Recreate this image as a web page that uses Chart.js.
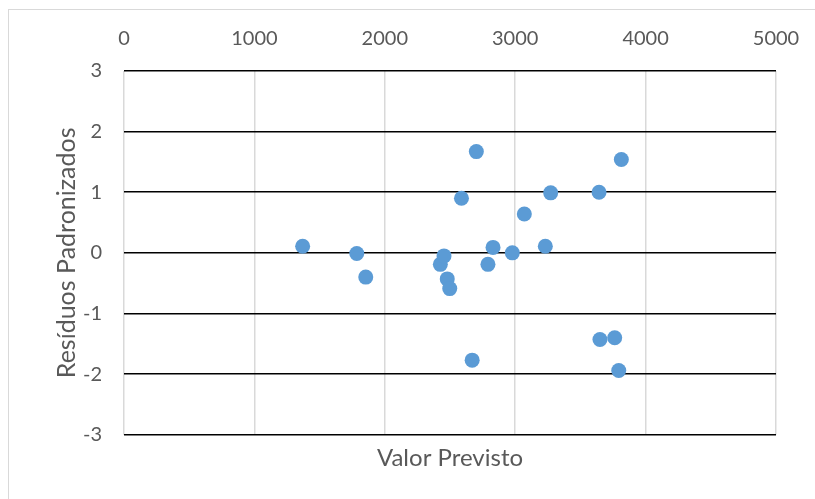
<!DOCTYPE html>
<html>
<head>
<meta charset="utf-8">
<script src="https://cdn.jsdelivr.net/npm/chart.js@4/dist/chart.umd.min.js"></script>
<style>
  html, body { margin: 0; padding: 0; background: #ffffff; }
  #wrap { position: relative; width: 815px; height: 499px; overflow: hidden; }
  #frame { position: absolute; left: 8px; top: 9px; width: 900px; height: 600px;
           border: 1.5px solid #D9D9D9; pointer-events: none; }
  canvas { position: absolute; left: 0; top: 0; }
</style>
</head>
<body>
<div id="wrap">
  <canvas id="chart" width="815" height="499"></canvas>
  <div id="frame"></div>
</div>
<script>
// Predicted value (x) and standardized residual (y) for each observation
const valorPrevisto = [1370, 1785, 1854, 2426, 2454, 2479, 2498, 2588, 2670, 2702, 2791,
                       2830, 2978, 3070, 3231, 3272, 3643, 3650, 3763, 3794, 3814];
const residuos = [0.11, -0.01, -0.40, -0.19, -0.05, -0.43, -0.59, 0.90, -1.77, 1.67, -0.19,
                  0.09, 0.00, 0.64, 0.11, 0.99, 1.00, -1.43, -1.40, -1.94, 1.54];

const xTicks = [0, 1000, 2000, 3000, 4000, 5000];
const yTicks = [-3, -2, -1, 0, 1, 2, 3];

const textColor = '#595959';
const fontFamily = 'Lato, "Open Sans", sans-serif';

const points = valorPrevisto.map((v, i) => ({ x: v, y: residuos[i] }));

new Chart(document.getElementById('chart'), {
  type: 'scatter',
  data: {
    datasets: [{
      label: 'Resíduos',
      data: points,
      backgroundColor: '#5B9BD5',
      borderColor: '#5B9BD5',
      borderWidth: 0,
      pointRadius: 7.5,
      pointHoverRadius: 7.5
    }]
  },
  options: {
    responsive: false,
    animation: false,
    events: [],
    layout: { padding: { left: 0, right: 39, top: 0, bottom: 0 } },
    plugins: {
      legend: { display: false },
      tooltip: { enabled: false },
      title: {
        display: true,
        position: 'bottom',
        fullSize: false,
        text: 'Valor Previsto',
        color: textColor,
        font: { family: fontFamily, size: 24, weight: 'normal' },
        padding: { top: 9, bottom: 26.5 }
      }
    },
    scales: {
      x: {
        type: 'linear',
        position: 'top',
        min: xTicks[0],
        max: xTicks[xTicks.length - 1],
        afterBuildTicks: (scale) => { scale.ticks = xTicks.map(v => ({ value: v })); },
        afterFit: (scale) => {
          scale.height = 71;
          scale.paddingLeft = 0;
          scale.paddingRight = 0;
        },
        ticks: {
          color: textColor,
          font: { family: fontFamily, size: 20 },
          padding: 20,
          maxRotation: 0,
          callback: (v) => String(v)
        },
        grid: { color: '#D9D9D9', lineWidth: 1.5, drawTicks: false },
        border: { display: false }
      },
      y: {
        type: 'linear',
        min: yTicks[0],
        max: yTicks[yTicks.length - 1],
        afterBuildTicks: (scale) => { scale.ticks = yTicks.map(v => ({ value: v })); },
        afterFit: (scale) => {
          scale.width = 124;
          scale.paddingTop = 0;
          scale.paddingBottom = 0;
        },
        ticks: {
          color: textColor,
          font: { family: fontFamily, size: 20 },
          padding: 22,
          callback: (v) => String(v)
        },
        grid: { color: '#000000', lineWidth: 1.5, drawTicks: false },
        border: { display: false },
        title: {
          display: true,
          text: 'Resíduos Padronizados',
          color: textColor,
          font: { family: fontFamily, size: 25, weight: 'normal' },
          padding: { top: 52, bottom: 0 }
        }
      }
    }
  }
});
</script>
</body>
</html>
